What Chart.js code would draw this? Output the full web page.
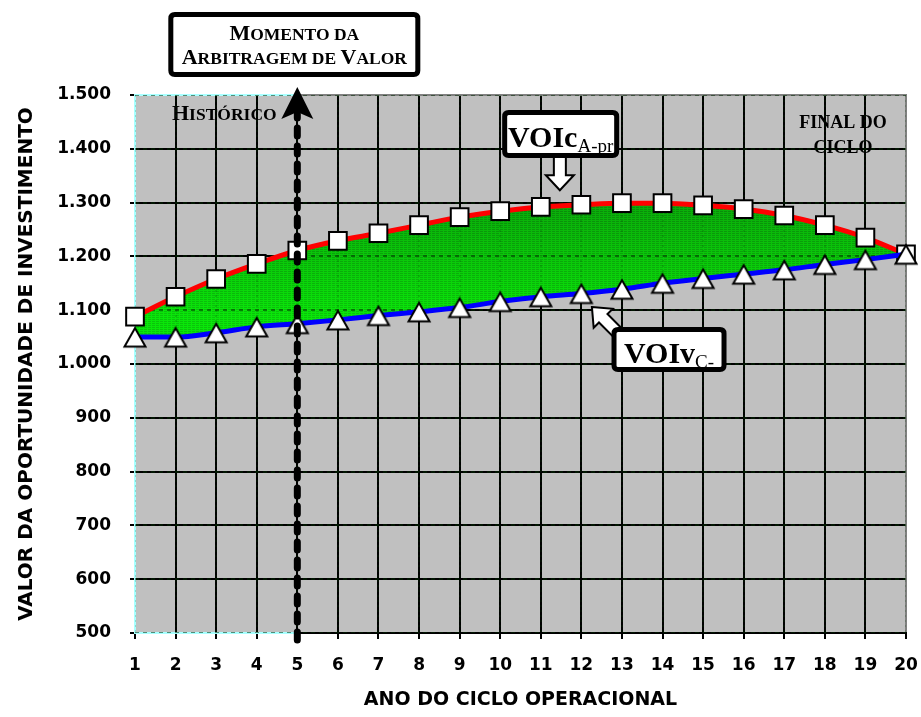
<!DOCTYPE html>
<html>
<head>
<meta charset="utf-8">
<script src="https://cdn.jsdelivr.net/npm/chart.js@4.4.0/dist/chart.umd.min.js"></script>
<style>
  html, body { margin: 0; padding: 0; background: #ffffff; }
  canvas { display: block; }
</style>
</head>
<body>
<canvas id="grafico" width="921" height="717"></canvas>
<script>
// Anos do ciclo operacional
const anos = [1, 2, 3, 4, 5, 6, 7, 8, 9, 10, 11, 12, 13, 14, 15, 16, 17, 18, 19, 20];
// VOIc A-pr (curva superior, quadrados)
const voicAPr = [1088, 1125, 1158, 1186, 1211, 1229, 1243, 1258, 1273, 1284, 1292, 1296, 1299, 1299, 1295, 1288, 1276, 1258, 1235, 1204];
// VOIv C- (curva inferior, triângulos)
const voivC = [1050, 1050, 1058, 1069, 1075, 1082, 1090, 1097, 1105, 1116, 1125, 1131, 1139, 1150, 1159, 1167, 1175, 1185, 1194, 1204];
// Eixo vertical
const yTicks = [500, 600, 700, 800, 900, 1000, 1100, 1200, 1300, 1400, 1500];
const yTickLabels = ['500', '600', '700', '800', '900', '1.000', '1.100', '1.200', '1.300', '1.400', '1.500'];
// Ano da arbitragem de valor
const anoArbitragem = 5;

const SANS = '"DejaVu Sans", Arial, sans-serif';
const SERIF = '"Liberation Serif", "Times New Roman", serif';

// Hachura verde da área entre as curvas
function hachuraVerde() {
  const c = document.createElement('canvas');
  c.width = 4; c.height = 717;
  const g = c.getContext('2d');
  const img = g.createImageData(4, 717);
  for (let y = 0; y < 717; y++) {
    const t = Math.min(1, Math.max(0, (y - 205) / 110));
    const base = Math.round(172 + t * 58);
    for (let x = 0; x < 4; x++) {
      const i = (y * 4 + x) * 4;
      let gv = base;
      if (y % 2 === 1 && x !== 3) gv = base - 34;
      img.data[i] = 10; img.data[i + 1] = gv; img.data[i + 2] = 10; img.data[i + 3] = 255;
    }
  }
  g.putImageData(img, 0, 0);
  return g.createPattern(c, 'repeat');
}

// Marcador triangular centrado na caixa
function marcadorTriangulo() {
  const c = document.createElement('canvas');
  c.width = 26; c.height = 26;
  const g = c.getContext('2d');
  g.beginPath();
  g.moveTo(13, 4);
  g.lineTo(23.5, 22.5);
  g.lineTo(2.5, 22.5);
  g.closePath();
  g.fillStyle = '#ffffff';
  g.fill();
  g.lineWidth = 2;
  g.strokeStyle = '#000000';
  g.lineJoin = 'miter';
  g.stroke();
  return c;
}

// Texto em versalete (maiúsculas grandes, minúsculas como maiúsculas menores)
function versalete(ctx, texto, x, y, grande, pequeno, alinhamento) {
  const partes = [];
  for (const ch of texto) {
    const maiuscula = ch !== ch.toLowerCase();
    const tam = maiuscula ? grande : pequeno;
    const glifo = ch.toUpperCase();
    const ult = partes[partes.length - 1];
    if (ult && ult.tam === tam) ult.t += glifo;
    else partes.push({ t: glifo, tam });
  }
  let total = 0;
  for (const p of partes) {
    ctx.font = `bold ${p.tam}px ${SERIF}`;
    p.w = ctx.measureText(p.t).width;
    total += p.w;
  }
  let cx = alinhamento === 'left' ? x : x - total / 2;
  ctx.textAlign = 'left';
  ctx.textBaseline = 'alphabetic';
  ctx.fillStyle = '#000000';
  for (const p of partes) {
    ctx.font = `bold ${p.tam}px ${SERIF}`;
    ctx.fillText(p.t, cx, y);
    cx += p.w;
  }
}

function caixaArredondada(ctx, x, y, w, h, r) {
  ctx.beginPath();
  ctx.moveTo(x + r, y);
  ctx.lineTo(x + w - r, y);
  ctx.quadraticCurveTo(x + w, y, x + w, y + r);
  ctx.lineTo(x + w, y + h - r);
  ctx.quadraticCurveTo(x + w, y + h, x + w - r, y + h);
  ctx.lineTo(x + r, y + h);
  ctx.quadraticCurveTo(x, y + h, x, y + h - r);
  ctx.lineTo(x, y + r);
  ctx.quadraticCurveTo(x, y, x + r, y);
  ctx.closePath();
}

// Caixa de rótulo com borda preta grossa (coordenadas da borda externa)
function caixaRotulo(ctx, left, top, w, h) {
  const lw = 5;
  caixaArredondada(ctx, left + lw / 2, top + lw / 2, w - lw, h - lw, 4);
  ctx.fillStyle = '#ffffff';
  ctx.fill();
  ctx.lineWidth = lw;
  ctx.strokeStyle = '#000000';
  ctx.lineJoin = 'round';
  ctx.stroke();
}

// Seta em bloco branca; ângulo = direção da ponta para a cauda
function setaBloco(ctx, px, py, angulo, comp, haste, cabeca, compCabeca) {
  ctx.save();
  ctx.translate(px, py);
  ctx.rotate(angulo);
  ctx.beginPath();
  ctx.moveTo(0, 0);
  ctx.lineTo(compCabeca, -cabeca / 2);
  ctx.lineTo(compCabeca, -haste / 2);
  ctx.lineTo(comp, -haste / 2);
  ctx.lineTo(comp, haste / 2);
  ctx.lineTo(compCabeca, haste / 2);
  ctx.lineTo(compCabeca, cabeca / 2);
  ctx.closePath();
  ctx.fillStyle = '#ffffff';
  ctx.fill();
  ctx.lineWidth = 2;
  ctx.strokeStyle = '#000000';
  ctx.lineJoin = 'miter';
  ctx.stroke();
  ctx.restore();
}

function rotuloVOI(ctx, cx, baseline, principal, indice) {
  ctx.font = `bold 30px ${SERIF}`;
  const w1 = ctx.measureText(principal).width;
  ctx.font = `19px ${SERIF}`;
  const w2 = ctx.measureText(indice).width;
  let x = cx - (w1 + w2) / 2;
  ctx.fillStyle = '#000000';
  ctx.textAlign = 'left';
  ctx.textBaseline = 'alphabetic';
  ctx.font = `bold 30px ${SERIF}`;
  ctx.fillText(principal, x, baseline);
  ctx.font = `19px ${SERIF}`;
  ctx.fillText(indice, x + w1, baseline + 5);
}

const moldura = {
  id: 'moldura',
  beforeDraw(chart) {
    const { ctx, chartArea: a } = chart;
    const xs = chart.scales.x;
    ctx.save();
    ctx.fillStyle = '#c0c0c0';
    ctx.fillRect(a.left, a.top, a.right - a.left, a.bottom - a.top);
    // textos de fundo, atrás da grade
    versalete(ctx, 'Histórico', xs.getPixelForValue(1) + 37, a.top + 25, 22, 17.5, 'left');
    const cxFinal = xs.getPixelForValue(18.45);
    versalete(ctx, 'FINAL DO', cxFinal, a.top + 33, 18, 18, 'center');
    versalete(ctx, 'CICLO', cxFinal, a.top + 58, 18, 18, 'center');
    ctx.restore();
  },
  beforeDatasetsDraw(chart) {
    const { ctx, chartArea: a } = chart;
    const xs = chart.scales.x;
    const x5 = xs.getPixelForValue(anoArbitragem);
    ctx.save();
    ctx.lineWidth = 2;
    // borda da área de plotagem
    ctx.strokeStyle = '#808080';
    ctx.beginPath();
    ctx.moveTo(a.left, a.top); ctx.lineTo(a.right, a.top); ctx.lineTo(a.right, a.bottom);
    ctx.stroke();
    ctx.strokeStyle = '#000000';
    ctx.beginPath();
    ctx.moveTo(a.left, a.bottom); ctx.lineTo(a.right + 1, a.bottom);
    ctx.stroke();
    // período histórico
    ctx.strokeStyle = '#a8ffff';
    ctx.beginPath();
    ctx.moveTo(x5, a.top); ctx.lineTo(a.left, a.top); ctx.lineTo(a.left, a.bottom); ctx.lineTo(x5, a.bottom);
    ctx.stroke();
    ctx.restore();
  },
  beforeDatasetDraw(chart, args) {
    // grade tracejada visível através da área hachurada
    if (args.index !== 1) return;
    const { ctx, chartArea: a } = chart;
    const xs = chart.scales.x, ys = chart.scales.y;
    ctx.save();
    ctx.beginPath();
    ctx.rect(a.left, a.top, a.right - a.left, a.bottom - a.top);
    ctx.clip();
    ctx.strokeStyle = 'rgba(0,40,0,0.7)';
    ctx.lineWidth = 1.5;
    ctx.setLineDash([4, 4]);
    for (const v of yTicks) {
      const y = Math.round(ys.getPixelForValue(v));
      ctx.beginPath(); ctx.moveTo(a.left, y); ctx.lineTo(a.right, y); ctx.stroke();
    }
    ctx.strokeStyle = 'rgba(0,70,0,0.25)';
    ctx.setLineDash([2, 3]);
    for (const v of anos) {
      const x = Math.round(xs.getPixelForValue(v));
      ctx.beginPath(); ctx.moveTo(x, a.top); ctx.lineTo(x, a.bottom); ctx.stroke();
    }
    ctx.restore();
  },
  afterDatasetsDraw(chart) {
    const { ctx, chartArea: a } = chart;
    const xs = chart.scales.x, ys = chart.scales.y;
    const X = v => xs.getPixelForValue(v);
    const Y = v => ys.getPixelForValue(v);
    const x5 = X(anoArbitragem);
    ctx.save();

    // linha tracejada do momento da arbitragem
    ctx.strokeStyle = '#000000';
    ctx.lineWidth = 7;
    ctx.lineCap = 'round';
    ctx.setLineDash([8, 10]);
    ctx.beginPath();
    ctx.moveTo(x5, a.bottom + 7);
    ctx.lineTo(x5, a.top + 19);
    ctx.stroke();
    ctx.setLineDash([]);
    // ponta de seta
    ctx.fillStyle = '#000000';
    ctx.beginPath();
    ctx.moveTo(x5, a.top - 8);
    ctx.lineTo(x5 + 16, a.top + 24);
    ctx.lineTo(x5, a.top + 17);
    ctx.lineTo(x5 - 16, a.top + 24);
    ctx.closePath();
    ctx.fill();

    // caixa MOMENTO DA ARBITRAGEM DE VALOR
    const mcx = x5 - 3;
    caixaRotulo(ctx, mcx - 126, a.top - 83, 252, 65);
    versalete(ctx, 'Momento da', mcx, a.top - 55, 22, 17.5, 'center');
    versalete(ctx, 'Arbitragem de Valor', mcx, a.top - 31, 22, 17.5, 'center');

    // VOIc A-pr
    setaBloco(ctx, X(11.47), Y(1323), -Math.PI / 2, 36, 12, 28, 15);
    const c1 = X(11.49), t1 = Y(1472);
    caixaRotulo(ctx, c1 - 58.5, t1, 117, 48);
    rotuloVOI(ctx, c1, t1 + 36.5, 'VOIc', 'A-pr');

    // VOIv C-
    setaBloco(ctx, X(12.26), Y(1106), Math.PI / 4, 42, 12, 27, 16);
    const c2 = X(14.16), t2 = Y(1069);
    caixaRotulo(ctx, c2 - 57.5, t2, 115, 45);
    rotuloVOI(ctx, c2, t2 + 36, 'VOIv', 'C-');

    ctx.restore();
  }
};

const ctx = document.getElementById('grafico').getContext('2d');
const padrao = hachuraVerde();
const triangulo = marcadorTriangulo();

new Chart(ctx, {
  type: 'line',
  data: {
    datasets: [
      {
        label: 'VOIv C-',
        data: anos.map((a, i) => ({ x: a, y: voivC[i] })),
        borderColor: '#0000ff',
        borderWidth: 5,
        cubicInterpolationMode: 'monotone',
        pointStyle: triangulo,
        pointRadius: 10,
        pointHoverRadius: 10,
        fill: false,
        clip: false
      },
      {
        label: 'VOIc A-pr',
        data: anos.map((a, i) => ({ x: a, y: voicAPr[i] })),
        borderColor: '#ff0000',
        borderWidth: 5,
        cubicInterpolationMode: 'monotone',
        pointStyle: 'rect',
        pointRadius: 12.5,
        pointHoverRadius: 12.5,
        pointBackgroundColor: '#ffffff',
        pointBorderColor: '#000000',
        pointBorderWidth: 2,
        fill: '-1',
        backgroundColor: padrao,
        clip: false
      }
    ]
  },
  options: {
    responsive: false,
    animation: false,
    devicePixelRatio: 1,
    layout: { padding: { left: 0, top: 95, right: 13, bottom: 0 } },
    plugins: {
      legend: { display: false },
      tooltip: { enabled: false },
      filler: { propagate: false }
    },
    scales: {
      x: {
        type: 'linear',
        min: 1,
        max: 20,
        afterBuildTicks: s => { s.ticks = anos.map(v => ({ value: v })); },
        afterFit: s => { s.height = 84; s.paddingLeft = 0; s.paddingRight = 0; },
        ticks: {
          color: '#000000',
          font: { family: SANS, weight: 'bold', size: 17 },
          padding: 16,
          maxRotation: 0,
          autoSkip: false,
          callback: v => String(v)
        },
        grid: { color: '#000000', lineWidth: 2, tickLength: 6, drawTicks: true },
        border: { display: false },
        title: {
          display: true,
          text: 'ANO DO CICLO OPERACIONAL',
          color: '#000000',
          font: { family: SANS, weight: 'bold', size: 19, lineHeight: 1.2 },
          padding: { top: 0, bottom: 6 }
        }
      },
      y: {
        min: 500,
        max: 1500,
        afterBuildTicks: s => { s.ticks = yTicks.map(v => ({ value: v })); },
        afterFit: s => { s.width = 135; s.paddingTop = 0; s.paddingBottom = 0; },
        ticks: {
          color: '#000000',
          font: { family: SANS, weight: 'bold', size: 17 },
          padding: 19,
          callback: v => yTickLabels[yTicks.indexOf(v)]
        },
        grid: { color: '#000000', lineWidth: 2, tickLength: 5, drawTicks: true },
        border: { display: false },
        title: {
          display: true,
          text: 'VALOR DA OPORTUNIDADE DE INVESTIMENTO',
          color: '#000000',
          font: { family: SANS, weight: 'bold', size: 20, lineHeight: 1.2 },
          padding: { top: 15, bottom: 0 }
        }
      }
    }
  },
  plugins: [moldura]
});
</script>
</body>
</html>
